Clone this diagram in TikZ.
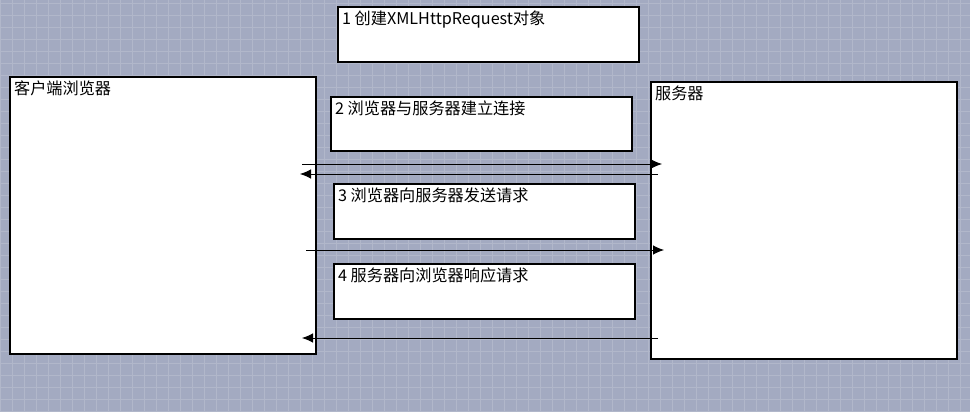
\documentclass[tikz,border=0pt]{standalone}
\usepackage{fontspec}
\setmainfont{Noto Sans CJK SC}
\usetikzlibrary{arrows.meta}
\definecolor{bggrey}{HTML}{A3AAC1}
\definecolor{gridline}{HTML}{B1B7CA}

\begin{document}
\begin{tikzpicture}[
    stage/.style={shape=rectangle, draw=black, fill=white, line width=0.7pt, minimum width=6.02cm, minimum height=1.1cm, inner sep=0pt},
    side/.style={stage, minimum width=6.12cm, minimum height=5.54cm},
    caption/.style={font=\fontsize{9.2}{11}\selectfont, inner sep=2.5pt},
    msg/.style={line width=0.5pt, -{Latex[length=2.2mm,width=1.9mm]}}
  ]
    \useasboundingbox (0,0) rectangle (19.4,8.22);
    \fill[bggrey] (0,0) rectangle (19.4,8.22);
    \draw[gridline, line width=0.4pt, step=0.24] (0,0) grid (19.4,8.22);

    \node[stage] at (9.77,7.53) (create) {};
    \node[caption, anchor=north west] at (create.north west) {1 创建XMLHttpRequest对象};
    \node[side] at (3.26,3.91) (client) {};
    \node[caption, anchor=north west] at (client.north west) {客户端浏览器};
    \node[side] at (16.08,3.81) (server) {};
    \node[caption, anchor=north west] at (server.north west) {服务器};
    \node[stage, minimum height=1.08cm] at (9.63,5.74) (connect) {};
    \node[caption, anchor=north west] at (connect.north west) {2 浏览器与服务器建立连接};
    \node[stage] at (9.69,3.99) (request) {};
    \node[caption, anchor=north west] at (request.north west) {3 浏览器向服务器发送请求};
    \node[stage] at (9.69,2.39) (response) {};
    \node[caption, anchor=north west] at (response.north west) {4 服务器向浏览器响应请求};

    \coordinate (C1) at (6.04,4.94);
    \coordinate (S1) at (13.24,4.94);
    \coordinate (S2) at (13.16,4.74);
    \coordinate (C2) at (6.00,4.74);
    \coordinate (C3) at (6.12,3.22);
    \coordinate (S3) at (13.28,3.22);
    \coordinate (S4) at (13.16,1.46);
    \coordinate (C4) at (6.04,1.46);
    \path [msg] (C1) edge (S1);
    \path [msg] (S2) edge (C2);
    \path [msg] (C3) edge (S3);
    \path [msg] (S4) edge (C4);
\end{tikzpicture}
\end{document}
